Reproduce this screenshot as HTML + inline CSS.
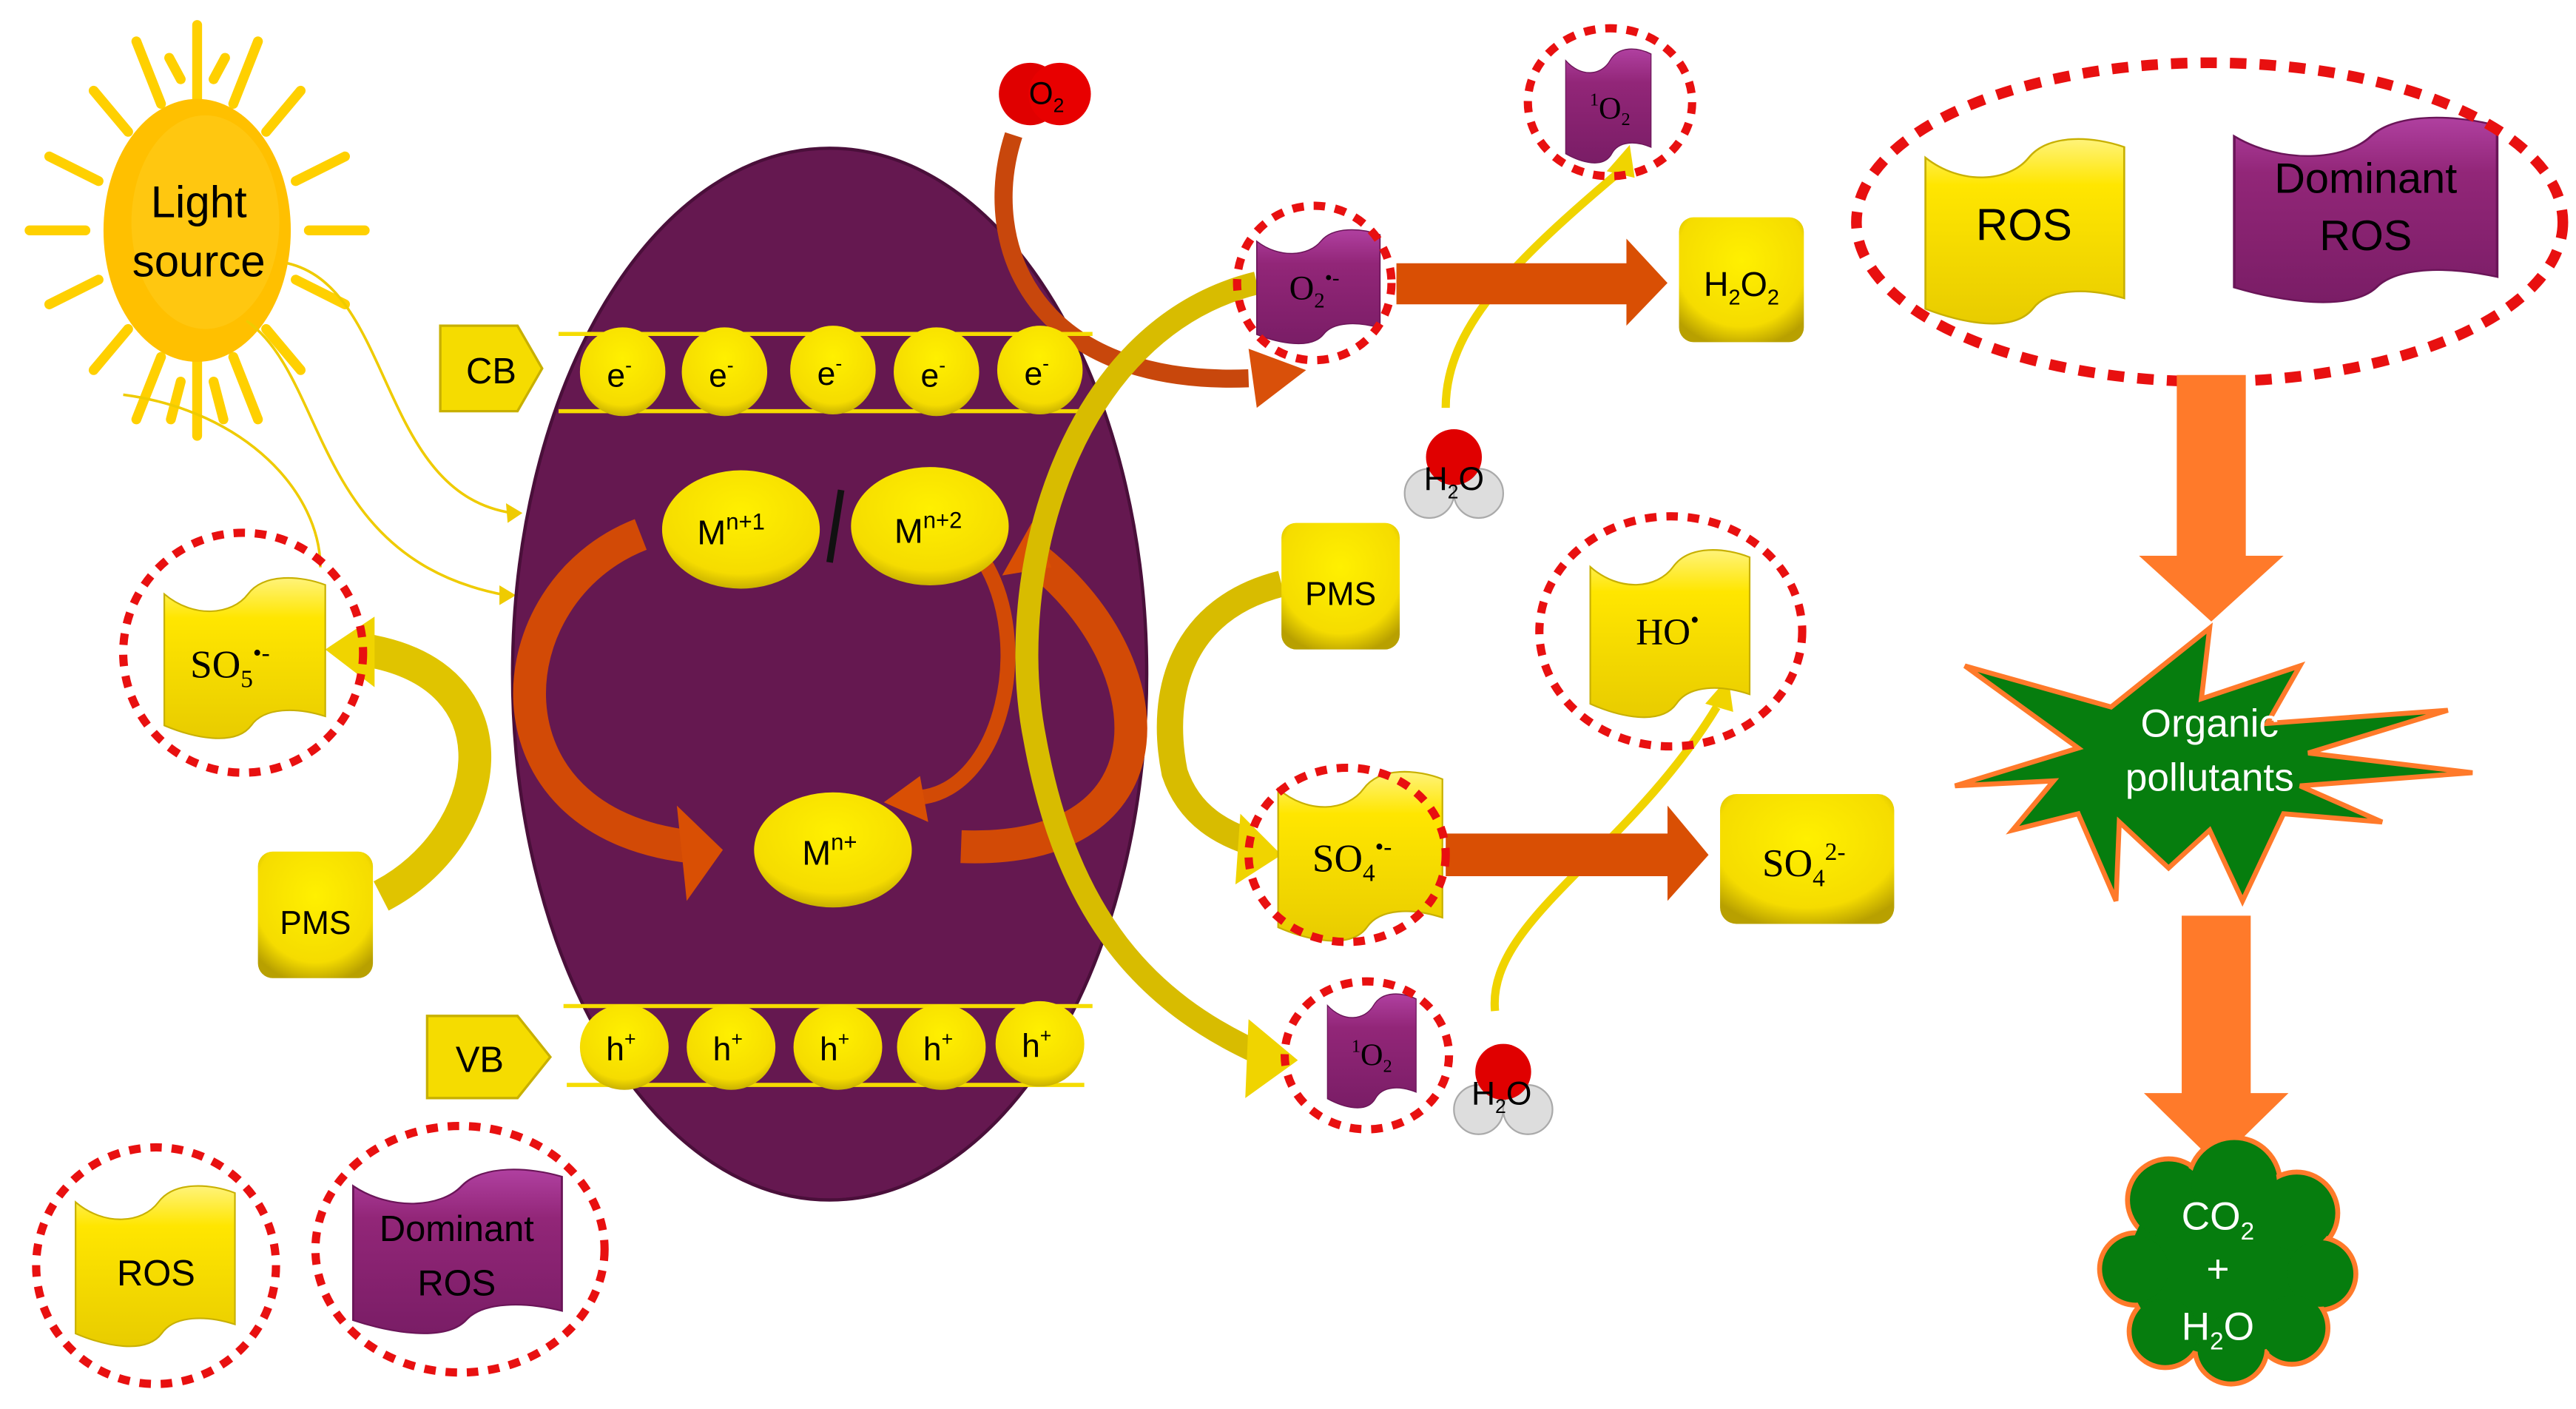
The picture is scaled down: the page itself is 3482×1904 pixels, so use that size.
<!DOCTYPE html>
<html><head><meta charset="utf-8"><style>
html,body{margin:0;padding:0;background:#fff;}
svg{display:block;}
text{font-family:"Liberation Sans",sans-serif;}
.ser{font-family:"Liberation Serif",serif;}
</style></head><body>
<svg width="3482" height="1904" viewBox="0 0 1568 857" xmlns="http://www.w3.org/2000/svg">
<defs>
<radialGradient id="yb" cx="50%" cy="35%" r="70%"><stop offset="0" stop-color="#FFF000"/><stop offset="0.75" stop-color="#F5DC00"/><stop offset="1" stop-color="#B8A000"/></radialGradient>
<linearGradient id="pb" x1="0" y1="0" x2="0" y2="1"><stop offset="0" stop-color="#B040A0"/><stop offset="0.3" stop-color="#922678"/><stop offset="1" stop-color="#7A1D66"/></linearGradient>
<linearGradient id="ybn" x1="0" y1="0" x2="0" y2="1"><stop offset="0" stop-color="#FFF37A"/><stop offset="0.25" stop-color="#FFE600"/><stop offset="1" stop-color="#E8CC00"/></linearGradient>
<path id="ban" d="M0,10 C18,26 42,24 52,10 C62,-4 85,-2 100,4 L100,90 C82,84 62,84 54,96 C44,110 18,104 0,96 Z"/>
</defs>

<!-- Sun -->
<g stroke="#FFD000" stroke-width="6" stroke-linecap="round">
<line x1="120" y1="60" x2="120" y2="15"/><line x1="120" y1="220" x2="120" y2="265"/>
<line x1="52" y1="140" x2="18" y2="140"/><line x1="188" y1="140" x2="222" y2="140"/>
<line x1="98" y1="63" x2="83" y2="25"/><line x1="142" y1="63" x2="157" y2="25"/>
<line x1="98" y1="217" x2="83" y2="255"/><line x1="142" y1="217" x2="157" y2="255"/>
<line x1="78" y1="80" x2="57" y2="55"/><line x1="162" y1="80" x2="183" y2="55"/>
<line x1="78" y1="200" x2="57" y2="225"/><line x1="162" y1="200" x2="183" y2="225"/>
<line x1="60" y1="110" x2="30" y2="95"/><line x1="180" y1="110" x2="210" y2="95"/>
<line x1="60" y1="170" x2="30" y2="185"/><line x1="180" y1="170" x2="210" y2="185"/>
<line x1="110" y1="48" x2="103" y2="35"/><line x1="130" y1="48" x2="137" y2="35"/>
<line x1="110" y1="232" x2="104" y2="255"/><line x1="130" y1="232" x2="136" y2="255"/>
</g>
<ellipse cx="120" cy="140" rx="57" ry="80" fill="#FFC000"/>
<ellipse cx="125" cy="135" rx="45" ry="65" fill="#FFC710"/>
<text x="121" y="132" font-size="27" text-anchor="middle">Light</text>
<text x="121" y="168" font-size="27" text-anchor="middle">source</text>

<!-- thin sun arrows -->
<g fill="none" stroke="#EFCB00" stroke-width="1.6">
<path d="M175,160 C240,175 230,300 312,312"/>
<path d="M150,195 C200,230 190,340 308,362"/>
<path d="M75,240 C150,250 195,300 195,345"/>
</g>
<path d="M318,312 L308,306 L309,318Z M314,362 L304,356 L304,368Z" fill="#EFCB00"/>

<!-- Main ellipse -->
<ellipse cx="505" cy="410" rx="193" ry="320" fill="#651850" stroke="#4a0f3a" stroke-width="2"/>

<!-- O2 arrow -->
<path d="M617,82 C595,150 630,235 760,230" fill="none" stroke="#C8470C" stroke-width="11"/>
<polygon points="795,225 760,212 765,248" fill="#D9500A"/>
<circle cx="627" cy="57" r="19" fill="#E00000"/><circle cx="645" cy="57" r="19" fill="#E80000"/>
<text x="637" y="63" font-size="19" text-anchor="middle">O<tspan font-size="12" dy="5">2</tspan></text>

<!-- CB -->
<polygon points="268,198 315,198 330,224 315,250 268,250" fill="#F5DC00" stroke="#C8B000" stroke-width="1.5"/>
<text x="299" y="233" font-size="22" text-anchor="middle">CB</text>
<g stroke="#F5DC00" stroke-width="2.5"><line x1="340" y1="203" x2="665" y2="203"/><line x1="340" y1="250" x2="665" y2="250"/></g>
<g fill="url(#yb)">
<ellipse cx="379" cy="226" rx="26" ry="27"/><ellipse cx="441" cy="226" rx="26" ry="27"/><ellipse cx="507" cy="225" rx="26" ry="27"/><ellipse cx="570" cy="226" rx="26" ry="27"/><ellipse cx="633" cy="225" rx="26" ry="27"/>
</g>
<g font-size="20" text-anchor="middle">
<text x="377" y="235">e<tspan font-size="12" dy="-9">-</tspan></text><text x="439" y="235">e<tspan font-size="12" dy="-9">-</tspan></text><text x="505" y="234">e<tspan font-size="12" dy="-9">-</tspan></text><text x="568" y="235">e<tspan font-size="12" dy="-9">-</tspan></text><text x="631" y="234">e<tspan font-size="12" dy="-9">-</tspan></text>
</g>

<!-- VB -->
<polygon points="260,618 315,618 335,643 315,668 260,668" fill="#F5DC00" stroke="#C8B000" stroke-width="1.5"/>
<text x="292" y="652" font-size="22" text-anchor="middle">VB</text>
<g stroke="#F5DC00" stroke-width="2.5"><line x1="343" y1="612" x2="665" y2="612"/><line x1="345" y1="660" x2="660" y2="660"/></g>
<g fill="url(#yb)">
<ellipse cx="380" cy="637" rx="27" ry="26"/><ellipse cx="445" cy="637" rx="27" ry="26"/><ellipse cx="510" cy="637" rx="27" ry="26"/><ellipse cx="573" cy="637" rx="27" ry="26"/><ellipse cx="633" cy="635" rx="27" ry="26"/>
</g>
<g font-size="20" text-anchor="middle">
<text x="378" y="645">h<tspan font-size="12" dy="-9">+</tspan></text><text x="443" y="645">h<tspan font-size="12" dy="-9">+</tspan></text><text x="508" y="645">h<tspan font-size="12" dy="-9">+</tspan></text><text x="571" y="645">h<tspan font-size="12" dy="-9">+</tspan></text><text x="631" y="643">h<tspan font-size="12" dy="-9">+</tspan></text>
</g>

<!-- orange cycle arrows -->
<path d="M390,325 C300,360 290,500 420,515" fill="none" stroke="#D24A06" stroke-width="20"/>
<polygon points="440,517 412,490 418,548" fill="#D94F04"/>
<path d="M585,515 C720,520 710,400 628,338" fill="none" stroke="#D24A06" stroke-width="20"/>
<polygon points="628,318 610,350 640,345" fill="#D94F04"/>
<path d="M598,340 C630,390 610,480 560,485" fill="none" stroke="#D24A06" stroke-width="9"/>
<polygon points="538,488 560,472 565,500" fill="#D94F04"/>

<!-- M ions -->
<ellipse cx="451" cy="322" rx="48" ry="36" fill="url(#yb)"/>
<ellipse cx="566" cy="320" rx="48" ry="36" fill="url(#yb)"/>
<line x1="512" y1="298" x2="505" y2="342" stroke="#111" stroke-width="4"/>
<ellipse cx="507" cy="517" rx="48" ry="35" fill="url(#yb)"/>
<text x="445" y="331" font-size="21" text-anchor="middle">M<tspan font-size="14" dy="-9">n+1</tspan></text>
<text x="565" y="330" font-size="21" text-anchor="middle">M<tspan font-size="14" dy="-9">n+2</tspan></text>
<text x="505" y="526" font-size="21" text-anchor="middle">M<tspan font-size="14" dy="-9">n+</tspan></text>

<!-- yellow bands -->
<path d="M232,545 C300,510 320,410 220,395" fill="none" stroke="#E0C400" stroke-width="20"/>
<polygon points="198,395 228,375 228,418" fill="#F0D400"/>
<path d="M765,172 C650,200 610,350 630,450 C650,560 700,610 765,640" fill="none" stroke="#D8BC00" stroke-width="14"/>
<polygon points="790,645 760,620 758,668" fill="#F0D400"/>
<path d="M780,355 C720,370 705,420 715,470 C725,500 750,508 760,512" fill="none" stroke="#D8BC00" stroke-width="16"/>
<polygon points="780,520 755,495 752,538" fill="#F0D400"/>
<path d="M880,248 C880,200 920,160 985,105" fill="none" stroke="#F0D400" stroke-width="5"/>
<polygon points="992,88 978,104 995,108" fill="#F0D400"/>
<path d="M910,615 C905,560 990,520 1045,430" fill="none" stroke="#F0D400" stroke-width="5"/>
<polygon points="1052,412 1038,428 1055,433" fill="#F0D400"/>

<!-- big orange arrows -->
<polygon points="850,160 990,160 990,145 1015,172 990,198 990,185 850,185" fill="#D94F04"/>
<polygon points="880,507 1015,507 1015,490 1040,520 1015,548 1015,533 880,533" fill="#D94F04"/>

<!-- Left SO5 -->
<use href="#ban" transform="translate(100,352) scale(0.98,0.93)" fill="url(#ybn)" stroke="#C8B000"/>
<text x="140" y="412" class="ser" font-size="24" text-anchor="middle">SO<tspan font-size="15" dy="6">5</tspan><tspan font-size="15" dy="-16">•-</tspan></text>
<ellipse cx="148" cy="397" rx="73" ry="73" fill="none" stroke="#E81010" stroke-width="5" stroke-dasharray="7,6"/>

<rect x="157" y="518" width="70" height="77" rx="9" fill="url(#yb)"/>
<text x="192" y="568" font-size="20" text-anchor="middle">PMS</text>

<use href="#ban" transform="translate(46,722) scale(0.97,0.93)" fill="url(#ybn)" stroke="#C8B000"/>
<text x="95" y="782" font-size="22" text-anchor="middle">ROS</text>
<ellipse cx="95" cy="770" rx="73" ry="72" fill="none" stroke="#E81010" stroke-width="5" stroke-dasharray="7,6"/>
<use href="#ban" transform="translate(215,712) scale(1.27,0.95)" fill="url(#pb)" stroke="#6a1558"/>
<text x="278" y="755" font-size="22" text-anchor="middle">Dominant</text>
<text x="278" y="788" font-size="22" text-anchor="middle">ROS</text>
<ellipse cx="280" cy="760" rx="88" ry="75" fill="none" stroke="#E81010" stroke-width="5" stroke-dasharray="7,6"/>

<use href="#ban" transform="translate(765,140) scale(0.75,0.66)" fill="url(#pb)" stroke="#6a1558"/>
<text x="800" y="182" class="ser" font-size="21" text-anchor="middle">O<tspan font-size="13" dy="5">2</tspan><tspan font-size="13" dy="-14">•-</tspan></text>
<ellipse cx="800" cy="172" rx="47" ry="47" fill="none" stroke="#E81010" stroke-width="5" stroke-dasharray="7,6"/>

<rect x="1022" y="132" width="76" height="76" rx="9" fill="url(#yb)"/>
<text x="1060" y="180" font-size="21" text-anchor="middle">H<tspan font-size="13" dy="5">2</tspan><tspan dy="-5">O</tspan><tspan font-size="13" dy="5">2</tspan></text>

<use href="#ban" transform="translate(953,30) scale(0.52,0.66)" fill="url(#pb)" stroke="#6a1558"/>
<text x="980" y="72" class="ser" font-size="19" text-anchor="middle"><tspan font-size="11" dy="-8">1</tspan><tspan dy="8">O</tspan><tspan font-size="11" dy="4">2</tspan></text>
<ellipse cx="980" cy="62" rx="50" ry="45" fill="none" stroke="#E81010" stroke-width="5" stroke-dasharray="7,6"/>

<g>
<circle cx="870" cy="300" r="15" fill="#ddd" stroke="#aaa"/><circle cx="900" cy="300" r="15" fill="#ddd" stroke="#aaa"/><circle cx="885" cy="278" r="17" fill="#E00000"/>
<text x="885" y="298" font-size="20" text-anchor="middle">H<tspan font-size="12" dy="5">2</tspan><tspan dy="-5">O</tspan></text>
</g>
<g>
<circle cx="900" cy="675" r="15" fill="#ddd" stroke="#aaa"/><circle cx="930" cy="675" r="15" fill="#ddd" stroke="#aaa"/><circle cx="915" cy="652" r="17" fill="#E00000"/>
<text x="914" y="672" font-size="20" text-anchor="middle">H<tspan font-size="12" dy="5">2</tspan><tspan dy="-5">O</tspan></text>
</g>

<rect x="780" y="318" width="72" height="77" rx="9" fill="url(#yb)"/>
<text x="816" y="368" font-size="20" text-anchor="middle">PMS</text>

<use href="#ban" transform="translate(968,335) scale(0.97,0.97)" fill="url(#ybn)" stroke="#C8B000"/>
<text x="1015" y="392" class="ser" font-size="23" text-anchor="middle">HO<tspan font-size="15" dy="-10">•</tspan></text>
<ellipse cx="1017" cy="384" rx="80" ry="70" fill="none" stroke="#E81010" stroke-width="5" stroke-dasharray="7,6"/>

<use href="#ban" transform="translate(778,470) scale(1,0.98)" fill="url(#ybn)" stroke="#C8B000"/>
<text x="823" y="530" class="ser" font-size="24" text-anchor="middle">SO<tspan font-size="15" dy="6">4</tspan><tspan font-size="15" dy="-16">•-</tspan></text>
<ellipse cx="820" cy="520" rx="60" ry="53" fill="none" stroke="#E81010" stroke-width="5" stroke-dasharray="7,6"/>

<rect x="1047" y="483" width="106" height="79" rx="10" fill="url(#yb)"/>
<text x="1098" y="533" class="ser" font-size="24" text-anchor="middle">SO<tspan font-size="15" dy="6">4</tspan><tspan font-size="15" dy="-16">2-</tspan></text>

<use href="#ban" transform="translate(808,605) scale(0.54,0.66)" fill="url(#pb)" stroke="#6a1558"/>
<text x="835" y="648" class="ser" font-size="19" text-anchor="middle"><tspan font-size="11" dy="-8">1</tspan><tspan dy="8">O</tspan><tspan font-size="11" dy="4">2</tspan></text>
<ellipse cx="832" cy="642" rx="50" ry="45" fill="none" stroke="#E81010" stroke-width="5" stroke-dasharray="7,6"/>

<use href="#ban" transform="translate(1172,85) scale(1.21,1.07)" fill="url(#ybn)" stroke="#C8B000"/>
<text x="1232" y="146" font-size="27" text-anchor="middle">ROS</text>
<use href="#ban" transform="translate(1360,72) scale(1.6,1.07)" fill="url(#pb)" stroke="#6a1558"/>
<text x="1440" y="117" font-size="26" text-anchor="middle">Dominant</text>
<text x="1440" y="152" font-size="26" text-anchor="middle">ROS</text>
<ellipse cx="1345" cy="135" rx="215" ry="97" fill="none" stroke="#E81010" stroke-width="6.5" stroke-dasharray="10,8"/>

<polygon points="1325,228 1367,228 1367,338 1390,338 1346,378 1302,338 1325,338" fill="#FF7A2A"/>
<polygon points="1328,557 1370,557 1370,665 1393,665 1349,708 1305,665 1328,665" fill="#FF7A2A"/>

<polygon points="1196,405 1285,430 1345,382 1340,425 1400,405 1380,440 1490,432 1405,458 1505,470 1400,478 1450,500 1390,495 1365,548 1345,505 1320,528 1290,500 1288,548 1265,495 1225,505 1250,475 1190,478 1265,455" fill="#067D0E" stroke="#FF7A2A" stroke-width="3"/>
<text x="1345" y="448" font-size="24" fill="#fff" text-anchor="middle">Organic</text>
<text x="1345" y="481" font-size="24" fill="#fff" text-anchor="middle">pollutants</text>

<g fill="#067D0E" stroke="#FF7A2A" stroke-width="3">
<circle cx="1320" cy="730" r="25"/><circle cx="1360" cy="720" r="28"/><circle cx="1398" cy="738" r="25"/><circle cx="1412" cy="775" r="22"/><circle cx="1395" cy="808" r="22"/><circle cx="1358" cy="820" r="22"/><circle cx="1318" cy="810" r="22"/><circle cx="1300" cy="772" r="22"/>
</g>
<ellipse cx="1356" cy="770" rx="60" ry="55" fill="#067D0E"/>
<g fill="#067D0E"><circle cx="1320" cy="730" r="23"/><circle cx="1360" cy="720" r="26"/><circle cx="1398" cy="738" r="23"/><circle cx="1412" cy="775" r="20"/><circle cx="1395" cy="808" r="20"/><circle cx="1358" cy="820" r="20"/><circle cx="1318" cy="810" r="20"/><circle cx="1300" cy="772" r="20"/></g>
<text x="1350" y="748" font-size="24" fill="#fff" text-anchor="middle">CO<tspan font-size="15" dy="6">2</tspan></text>
<text x="1350" y="780" font-size="24" fill="#fff" text-anchor="middle">+</text>
<text x="1350" y="815" font-size="24" fill="#fff" text-anchor="middle">H<tspan font-size="15" dy="6">2</tspan><tspan dy="-6">O</tspan></text>
</svg>
</body></html>
